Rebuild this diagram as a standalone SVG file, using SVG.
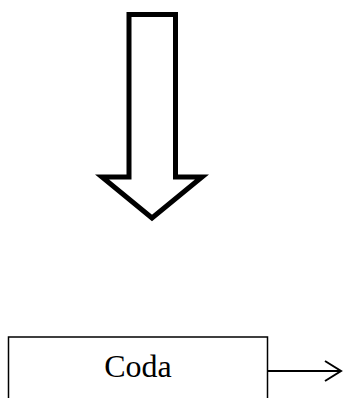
<svg xmlns="http://www.w3.org/2000/svg" width="343" height="398" viewBox="0 0 343 398">
<style>
.shape{fill:#fff;stroke:#000}
.lbl{font-family:"Liberation Serif","Times New Roman",serif;font-size:32px;fill:#000;text-anchor:middle}
.conn{fill:none;stroke:#000;stroke-width:2}
</style>
<rect width="343" height="398" fill="#fff"/>
<g id="down-arrow">
<polygon class="shape" stroke-width="5" points="129,14.5 175.5,14.5 175.5,177 202,177 152,218 102,177 129,177"/>
</g>
<g id="coda">
<rect class="shape" stroke-width="1.5" x="8.5" y="337" width="259" height="80"/>
<text class="lbl" x="138" y="377">Coda</text>
</g>
<g id="connectors">
<line class="conn" x1="268" y1="371" x2="340" y2="371"/>
<polyline class="conn" points="325,361 341,371 325,381"/>
</g>
</svg>
